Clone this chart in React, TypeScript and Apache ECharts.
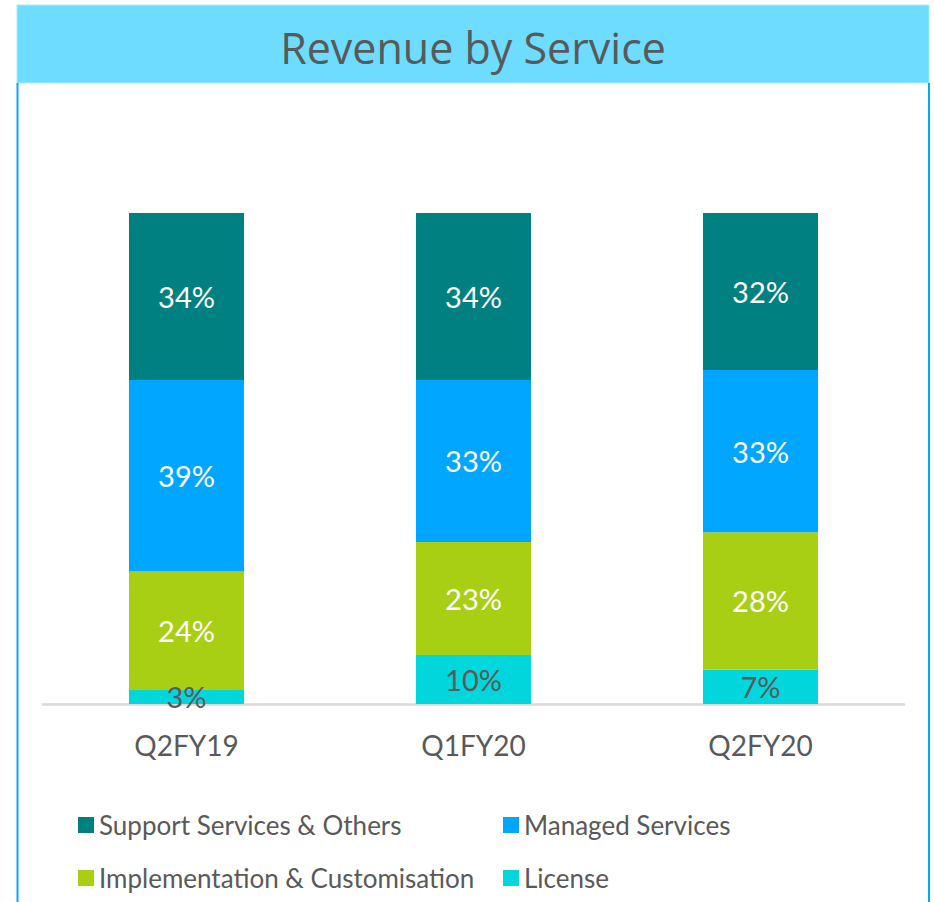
import React, { useEffect, useRef } from "react";
import * as echarts from "echarts";

const categories = ["Q2FY19", "Q1FY20", "Q2FY20"];
const license = [3, 10, 7];
const implementation = [24, 23, 28];
const managed = [39, 33, 33];
const support = [34, 34, 32];

const seriesNames = [
  "License",
  "Implementation & Customisation",
  "Managed Services",
  "Support Services & Others",
];
const seriesColors = ["#00D6DC", "#A8CF14", "#00A6FF", "#008080"];
const labelColors = ["#595959", "#ffffff", "#ffffff", "#ffffff"];

const legendRows = [
  ["Support Services & Others", "Managed Services"],
  ["Implementation & Customisation", "License"],
];

const FONT = "Lato, 'Open Sans', sans-serif";

export default function App() {
  const ref = useRef<HTMLDivElement>(null);
  useEffect(() => {
    document.body.style.margin = "0";
    const chart = echarts.init(ref.current!, undefined, { renderer: "svg" });
    const data = [license, implementation, managed, support];
    const colLeft = [78, 503];
    const rowTop = [810, 863];
    const legends: any[] = [];
    legendRows.forEach((row, r) => {
      row.forEach((name, c) => {
        legends.push({
          left: colLeft[c],
          top: rowTop[r],
          padding: 0,
          orient: "horizontal",
          icon: "rect",
          itemWidth: 16,
          itemHeight: 16,
          data: [name],
          textStyle: { color: "#595959", fontSize: 26, fontFamily: FONT, lineHeight: 30 },
        });
      });
    });
    chart.setOption({
      animation: false,
      backgroundColor: "#ffffff",
      textStyle: { fontFamily: FONT },
      graphic: [
        {
          type: "rect",
          shape: { x: 17, y: 5, width: 912, height: 78 },
          style: { fill: "#6DDCFF", stroke: "#A6E9FF", lineWidth: 1 },
          z: 0,
        },
        {
          type: "line",
          shape: { x1: 17.5, y1: 83, x2: 17.5, y2: 902 },
          style: { stroke: "#0AA4F5", lineWidth: 2 },
        },
        {
          type: "line",
          shape: { x1: 929, y1: 83, x2: 929, y2: 902 },
          style: { stroke: "#0AA4F5", lineWidth: 2 },
        },
        {
          type: "text",
          x: 473,
          y: 47,
          style: {
            text: "Revenue by Service",
            fill: "#595959",
            font: "43px 'Open Sans', sans-serif",
            align: "center",
            verticalAlign: "middle",
          },
          z: 10,
        },
      ],
      grid: { left: 43, right: 30, top: 213, bottom: 198 },
      xAxis: {
        type: "category",
        data: categories,
        axisLine: { lineStyle: { color: "#D9D9D9", width: 2.5 } },
        axisTick: { show: false },
        axisLabel: {
          color: "#595959",
          fontSize: 28,
          fontFamily: FONT,
          margin: 27,
        },
      },
      yAxis: {
        type: "value",
        min: 0,
        max: 100,
        show: false,
        splitLine: { show: false },
      },
      legend: legends,
      series: seriesNames.map((name, i) => ({
        name,
        type: "bar",
        stack: "total",
        barWidth: 115,
        data: data[i],
        itemStyle: { color: seriesColors[i] },
        label: {
          show: true,
          position: "inside",
          formatter: "{c}%",
          color: labelColors[i],
          fontSize: 29,
          fontFamily: FONT,
        },
      })),
    });
    return () => chart.dispose();
  }, []);
  return <div ref={ref} style={{ width: 934, height: 902 }} />;
}
